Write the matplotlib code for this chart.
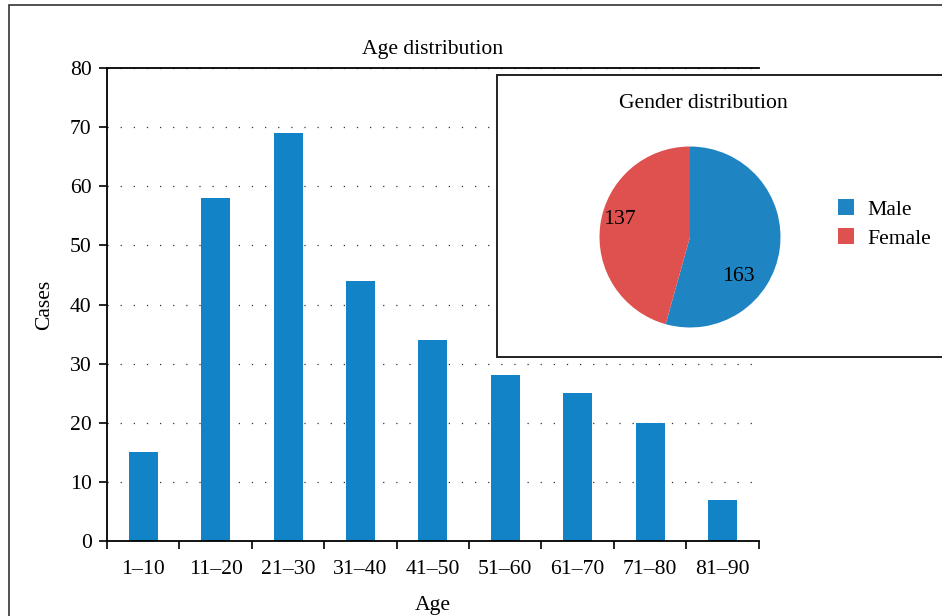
import matplotlib
matplotlib.use("Agg")
import matplotlib.pyplot as plt
from matplotlib.patches import Rectangle, Patch
import numpy as np

plt.rcParams['font.family'] = ['Liberation Serif', 'DejaVu Serif']
plt.rcParams['font.size'] = 15.6

age_groups = ["1\u201310", "11\u201320", "21\u201330", "31\u201340", "41\u201350",
              "51\u201360", "61\u201370", "71\u201380", "81\u201390"]
cases = [15, 58, 69, 44, 34, 28, 25, 20, 7]
genders = ["Male", "Female"]
gender_counts = [163, 137]

bar_color = "#1183c6"
pie_colors = ["#1f85c2", "#de514e"]

W, H = 942, 616
fig = plt.figure(figsize=(W / 100, H / 100), dpi=100)

# outer frame
fig.patches.append(Rectangle((9 / W, -0.2), 1.2, 1 - 5 / H + 0.2, transform=fig.transFigure,
                             fill=False, edgecolor="#333333", linewidth=1.2, zorder=0))

ax = fig.add_axes([107 / W, 1 - 541 / H, (758.7 - 107) / W, (541 - 68) / H])
x = np.arange(len(cases))
ax.bar(x, cases, width=0.4, color=bar_color, zorder=2)
ax.set_xlim(-0.5, len(cases) - 0.5)
ax.set_ylim(0, 80)
ax.set_yticks(range(0, 81, 10))
ax.set_xticks(x)
ax.set_xticklabels(age_groups)
ax.set_xticks(np.arange(-0.5, len(cases), 1.0), minor=True)
ax.tick_params(axis='x', which='major', length=0, pad=14)
ax.tick_params(axis='x', which='minor', length=6, width=1.2, direction='out')
ax.tick_params(axis='y', length=6, width=1.2, pad=5)
for s in ['left', 'bottom', 'top']:
    ax.spines[s].set_linewidth(1.3)
ax.spines['right'].set_visible(False)
ax.grid(axis='y', color='#333333', linewidth=0.9, linestyle=(0, (1, 9.5)), zorder=1)
ax.set_axisbelow(True)
ax.set_title("Age distribution", pad=10, fontsize=15.6)
ax.set_xlabel("Age", labelpad=12)
ax.set_ylabel("Cases", labelpad=11)

# inset box
box = Rectangle((497 / W, 1 - 357 / H), 1.0, (357 - 75) / H, transform=fig.transFigure,
                facecolor='white', edgecolor='#222222', linewidth=1.4, zorder=5)
fig.patches.append(box)
fig.text(703 / W, 1 - 103 / H, "Gender distribution", ha='center', va='center', zorder=6)

pax = fig.add_axes([(690 - 90.5) / W, 1 - (237 + 90.5) / H, 181 / W, 181 / H])
pax.set_zorder(10)
wedges, texts = pax.pie(gender_counts, colors=pie_colors, startangle=90, counterclock=False,
                        radius=1, labels=None)
pax.set_xlim(-1, 1)
pax.set_ylim(-1, 1)
pax.set_aspect('equal')
pax.axis('off')
label_pos = [(-39, 0.69), (166, 0.80)]
for cnt, (ang, r) in zip(gender_counts, label_pos):
    a = np.deg2rad(ang)
    pax.text(r * np.cos(a), r * np.sin(a), str(cnt), ha='center', va='center')

handles = [Patch(facecolor=c, edgecolor='none') for c in pie_colors]
leg = fig.legend(handles, genders, loc='center left', bbox_to_anchor=(838 / W, 1 - 224 / H),
                 frameon=False, borderpad=0, borderaxespad=0, handlelength=0.74,
                 handleheight=0.74, handletextpad=0.6, labelspacing=0.38)
leg.set_zorder(11)

fig.savefig("out.png", dpi=100)
